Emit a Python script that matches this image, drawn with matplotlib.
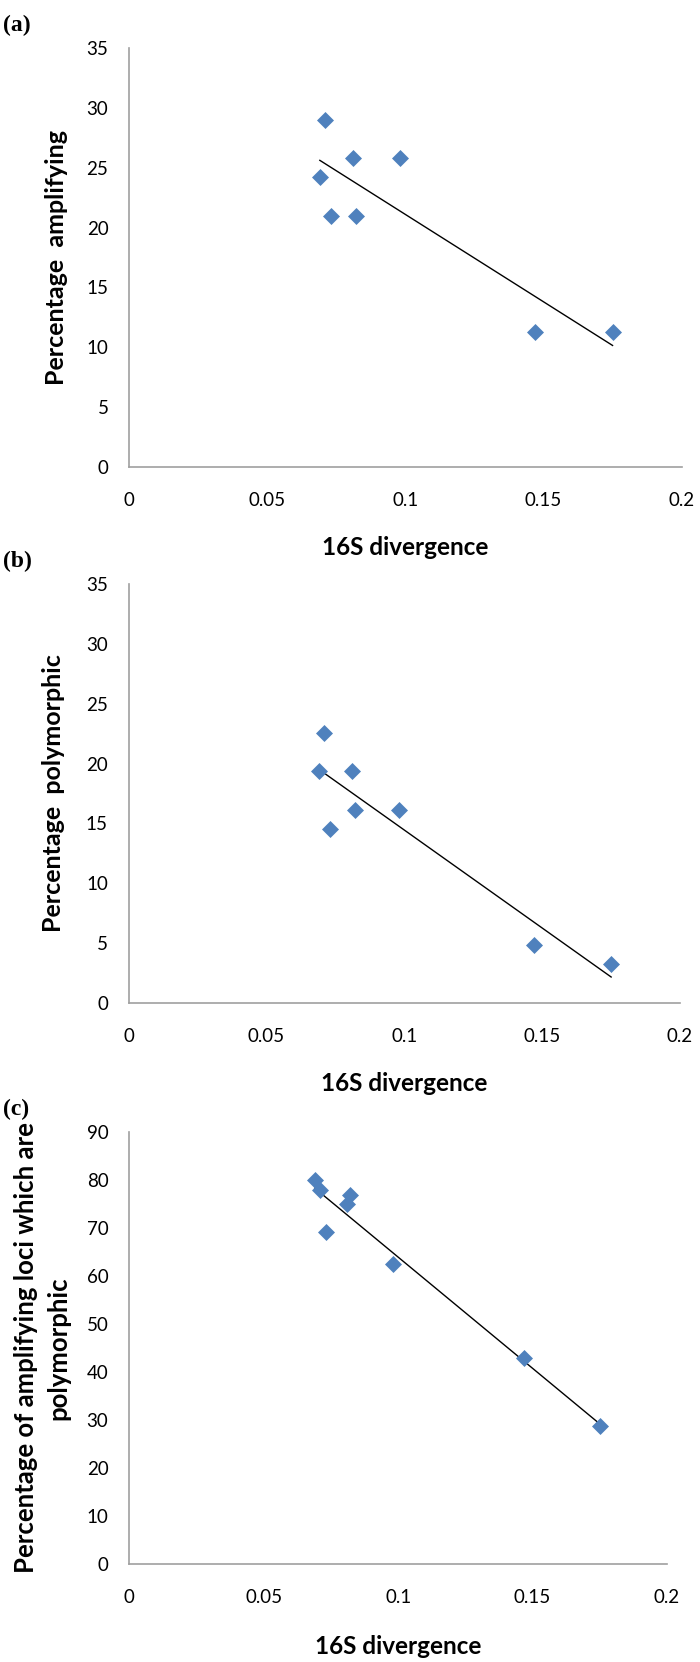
import numpy as np
import matplotlib
matplotlib.use("Agg")
import matplotlib.pyplot as plt

plt.rcParams['font.family'] = ['Lato', 'DejaVu Sans']

# 16S divergence of the eight species
divergence = [0.069, 0.071, 0.073, 0.081, 0.082, 0.098, 0.147, 0.175]
# percentages
pct_amplifying = [24.2, 29.0, 21.0, 25.8, 21.0, 25.8, 11.3, 11.3]
pct_polymorphic = [19.4, 22.6, 14.5, 19.4, 16.1, 16.1, 4.84, 3.23]
pct_amp_poly = [80.0, 77.8, 69.2, 75.0, 76.9, 62.5, 42.9, 28.6]

x_ticks = [0, 0.05, 0.1, 0.15, 0.2]
x_ticklabels = ["0", "0.05", "0.1", "0.15", "0.2"]

panels = [
    ("(a)", pct_amplifying, "Percentage  amplifying", np.arange(0, 36, 5), 35,
     [0.1847, 0.7192, 0.789, 0.2517], -0.131, 18),
    ("(b)", pct_polymorphic, "Percentage  polymorphic", np.arange(0, 36, 5), 35,
     [0.1839, 0.3967, 0.7876, 0.2517], -0.137, 18),
    ("(c)", pct_amp_poly, "Percentage of amplifying loci which are\npolymorphic",
     np.arange(0, 91, 10), 90, [0.1847, 0.05915, 0.7681, 0.2599], -0.162, 18.5),
]

fig = plt.figure(figsize=(7, 16.62), dpi=100)

for tag, vals, ylab, yt, ymax, pos, ylab_x, ylab_size in panels:
    ax = fig.add_axes(pos)
    ax.scatter(divergence, vals, marker="D", s=75, color="#4F81BD", zorder=3, linewidths=0)

    # linear trendline over the data range
    k, b = np.polyfit(divergence, vals, 1)
    xs = np.array([min(divergence), max(divergence)])
    ax.plot(xs, k * xs + b, color="black", lw=1.0, zorder=2)

    ax.set_xlim(0, 0.2)
    ax.set_ylim(0, ymax)
    ax.set_xticks(x_ticks)
    ax.set_xticklabels(x_ticklabels)
    ax.set_yticks(yt)
    ax.tick_params(length=0, labelsize=13.5)
    ax.tick_params(axis="x", pad=18)
    ax.tick_params(axis="y", pad=15)
    for s in ["top", "right"]:
        ax.spines[s].set_visible(False)
    for s in ["left", "bottom"]:
        ax.spines[s].set_color("#A0A0A0")
        ax.spines[s].set_linewidth(1.2)

    ax.set_xlabel("16S divergence", fontsize=17.5, fontweight="bold")
    ax.xaxis.label.set_va("center")
    ax.xaxis.set_label_coords(0.5, -0.192)
    ax.set_ylabel(ylab, fontsize=ylab_size, fontweight="bold",
                  multialignment="center", linespacing=1.4)
    ax.yaxis.label.set_va("center")
    ax.yaxis.set_label_coords(ylab_x, 0.5)

    # panel tag in the top-left corner
    bb = ax.get_position()
    fig.text(0.005, bb.y1 + 0.0135, tag, fontsize=17, fontweight="bold",
             family="Liberation Serif", va="center", ha="left")

fig.savefig("out.png", dpi=100)
